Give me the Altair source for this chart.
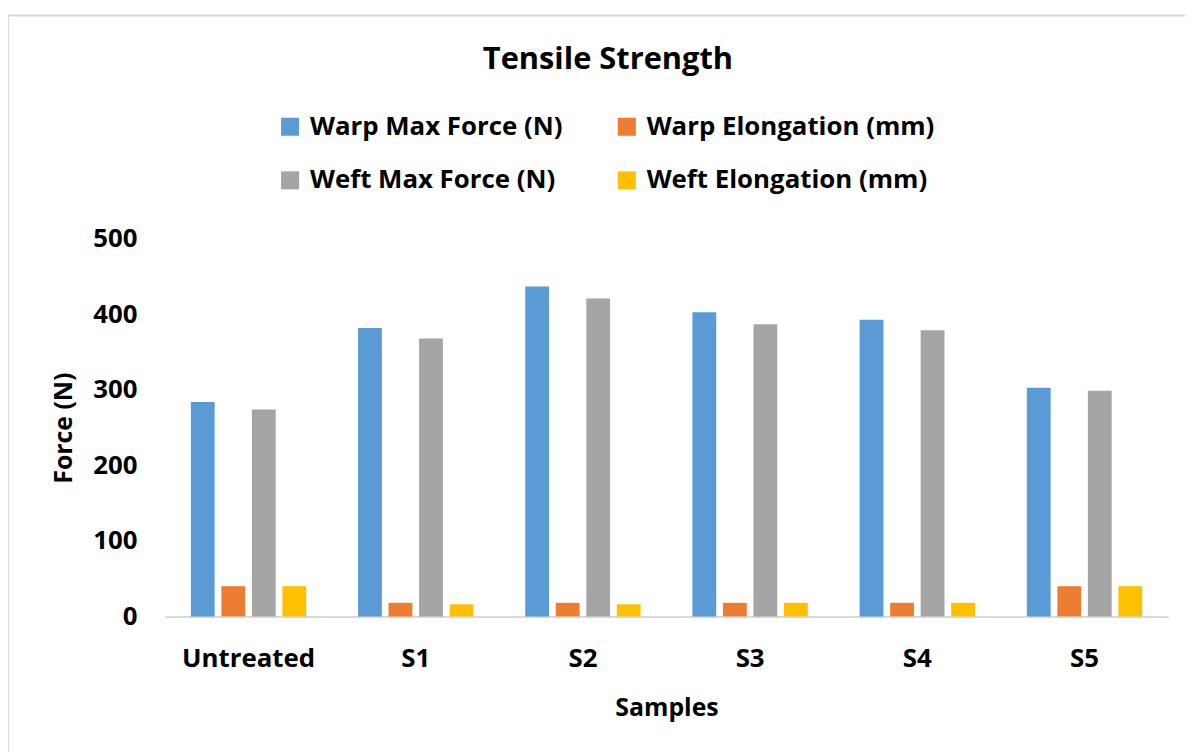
import altair as alt
import pandas as pd

categories = ["Untreated", "S1", "S2", "S3", "S4", "S5"]
series = ["Warp Max Force (N)", "Warp Elongation (mm)", "Weft Max Force (N)", "Weft Elongation (mm)"]
colors = ["#5B9BD5", "#ED7D31", "#A5A5A5", "#FFC000"]
warp_force = [284, 382, 437, 403, 393, 303]
warp_elong = [40, 18, 18, 18, 18, 40]
weft_force = [274, 368, 421, 387, 379, 299]
weft_elong = [40, 16, 16, 18, 18, 40]

rows = []
for s, vals in zip(series, [warp_force, warp_elong, weft_force, weft_elong]):
    for c, v in zip(categories, vals):
        rows.append({"Sample": c, "Series": s, "Value": v})
df = pd.DataFrame(rows)

FONT = "Open Sans"

bars = alt.Chart(df).mark_bar().encode(
    x=alt.X("Sample:N", sort=categories, title="Samples",
            scale=alt.Scale(paddingInner=0.31, paddingOuter=0.155),
            axis=alt.Axis(labelAngle=0, ticks=False, domainColor="#d9d9d9", domainWidth=2,
                          labelPadding=29, titlePadding=25)),
    xOffset=alt.XOffset("Series:N", sort=series, scale=alt.Scale(paddingInner=0.22, paddingOuter=0)),
    y=alt.Y("Value:Q", title="Force (N)", scale=alt.Scale(domain=[0, 500], nice=False),
            axis=alt.Axis(values=[0, 100, 200, 300, 400, 500], grid=False, domain=False, ticks=False,
                          labelPadding=28, titlePadding=16)),
    color=alt.Color("Series:N", sort=series,
                    scale=alt.Scale(domain=series, range=colors),
                    legend=alt.Legend(title=None, orient="none", legendX=113, legendY=-126,
                                      columns=2, direction="horizontal", symbolType="square",
                                      symbolSize=330, symbolStrokeWidth=0, labelFontSize=26,
                                      labelFont=FONT, labelFontWeight="bold", labelColor="black",
                                      rowPadding=28, columnPadding=51, labelOffset=7,
                                      labelLimit=400)),
)

frame = alt.Chart(pd.DataFrame({"f": [0]})).mark_rect(
    fill=None, stroke="#d9d9d9", strokeWidth=2
).encode(x=alt.value(-158), x2=alt.value(1060), y=alt.value(-225), y2=alt.value(560))

chart = alt.layer(frame, bars).properties(
    width=1010, height=380,
    autosize=alt.AutoSizeParams(type="none"),
    padding={"left": 158, "top": 230, "right": 17, "bottom": 134},
    title=alt.TitleParams("Tensile Strength", anchor="middle", fontSize=31, font=FONT,
                          fontWeight="bold", color="black", offset=-62, dx=-59),
).configure_view(stroke=None).configure_axis(
    labelFont=FONT, labelFontSize=26, labelFontWeight="bold", labelColor="black",
    titleFont=FONT, titleFontSize=25, titleFontWeight="bold", titleColor="black"
)

chart.save("out.html", embed_options={"renderer": "svg", "actions": False})
